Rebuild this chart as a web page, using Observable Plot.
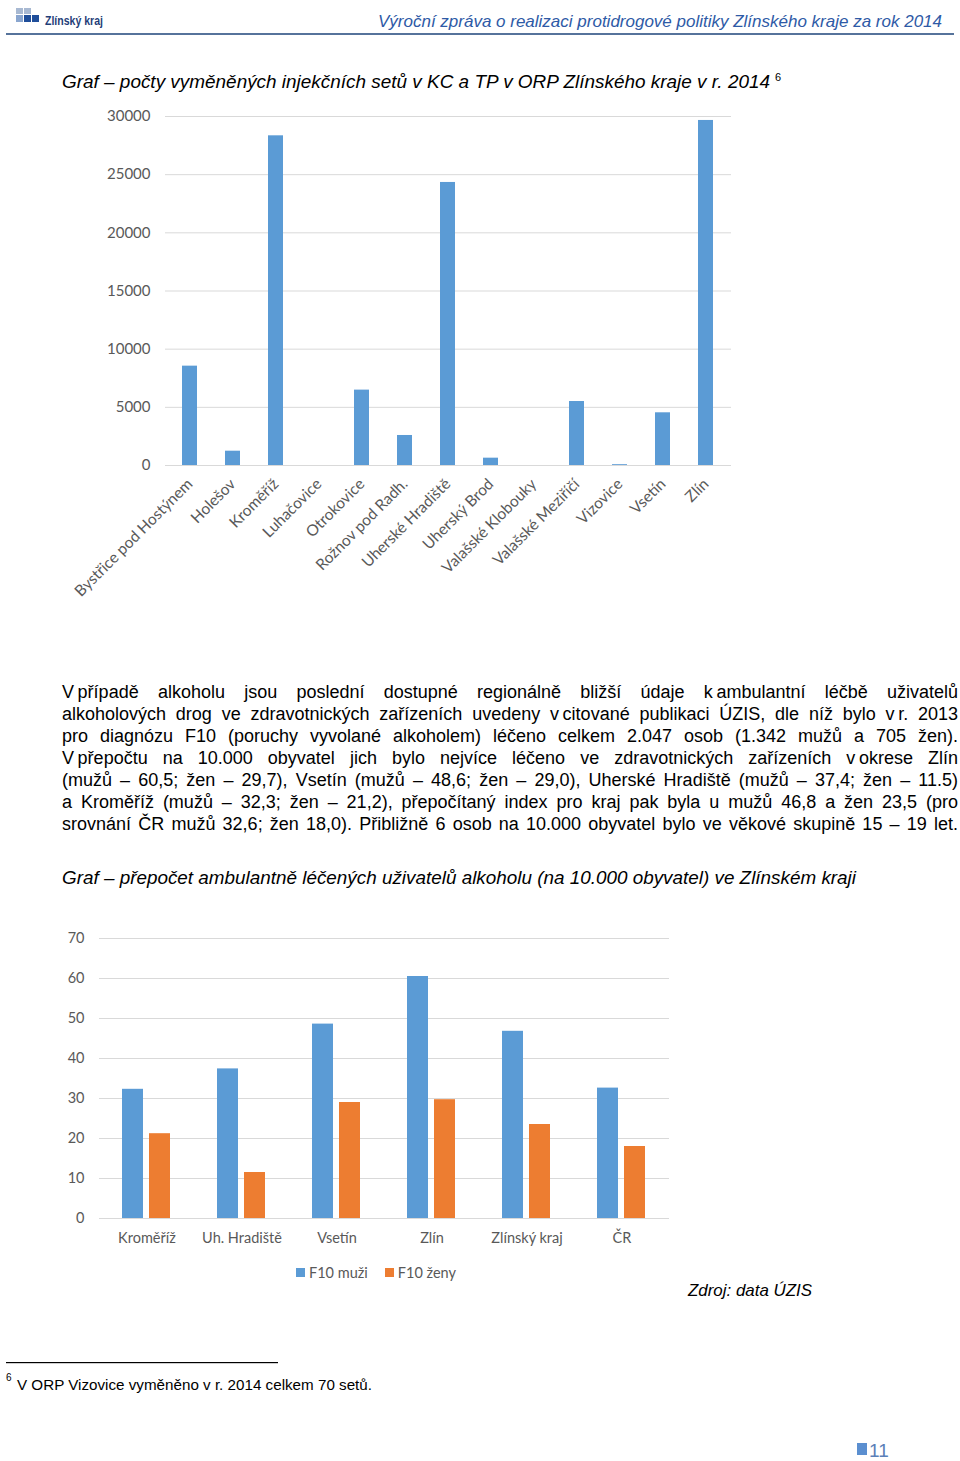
<!DOCTYPE html>
<html>
<head>
<meta charset="utf-8">
<script src="https://cdn.jsdelivr.net/npm/d3@7"></script>
<script src="https://cdn.jsdelivr.net/npm/@observablehq/plot@0.6"></script>
<style>
  html, body { margin: 0; padding: 0; background: #fff; }
  #page { position: relative; width: 960px; height: 1461px; overflow: hidden; font-family: "Liberation Sans", Arial, sans-serif; }
  .abs { position: absolute; }
  .para { position: absolute; left: 62px; width: 896px; font-size: 18px; line-height: 22px; color: #000;
          text-align: justify; text-align-last: justify; white-space: normal; }
  .sq { position: absolute; }
  #chart1 g[aria-label^="x-axis"] text { font-size: 15.5px; }
  #legend2 { position: absolute; top: 1264px; left: 296px; font-family: Lato, sans-serif; font-size: 14.5px; color: #595959; display: flex; align-items: center; }
  #legend2 .sw { width: 9px; height: 9px; display: inline-block; margin-right: 4px; }
  #legend2 .it { display: flex; align-items: center; margin-right: 17px; }
</style>
</head>
<body>
<div id="page">
  <!-- header logo -->
  <div class="sq" style="left:16px;top:8px;width:7px;height:6px;background:#a8b9d2"></div>
  <div class="sq" style="left:24px;top:8px;width:7px;height:6px;background:#a8b9d2"></div>
  <div class="sq" style="left:16px;top:15px;width:7px;height:7px;background:#8aa6cf"></div>
  <div class="sq" style="left:24px;top:15px;width:7px;height:7px;background:#1f4e9a"></div>
  <div class="sq" style="left:32px;top:15px;width:7px;height:7px;background:#1f4e9a"></div>
  <svg class="abs" style="left:0;top:0" width="960" height="40">
    <text x="45" y="25" font-family="Liberation Sans Narrow, Liberation Sans, sans-serif" font-weight="bold" font-size="12" fill="#1f3e79" textLength="58" lengthAdjust="spacingAndGlyphs">Zlínský kraj</text>
    <text x="378" y="27" font-family="Liberation Sans, Arial, sans-serif" font-style="italic" font-size="17" fill="#2e5aa6" textLength="564" lengthAdjust="spacingAndGlyphs">Výroční zpráva o realizaci protidrogové politiky Zlínského kraje za rok 2014</text>
    <rect x="6" y="33" width="948" height="2" fill="#56739b"></rect>
  </svg>
  <!-- chart 1 title -->
  <svg class="abs" style="left:0;top:60px" width="960" height="40">
    <text x="62" y="28" font-family="Liberation Sans, Arial, sans-serif" font-style="italic" font-size="18" fill="#000" textLength="708" lengthAdjust="spacingAndGlyphs">Graf – počty vyměněných injekčních setů v KC a TP v ORP Zlínského kraje v r. 2014</text>
    <text x="775" y="21" font-family="Liberation Sans, Arial, sans-serif" font-size="11" fill="#000">6</text>
  </svg>
  <div id="chart1" class="abs" style="left:60px;top:100px"></div>

  <div class="para" style="top:681px">V&#8239;případě alkoholu jsou poslední dostupné regionálně bližší údaje k&#8239;ambulantní léčbě uživatelů</div>
  <div class="para" style="top:703px">alkoholových drog ve zdravotnických zařízeních uvedeny v&#8239;citované publikaci ÚZIS, dle níž bylo v&#8239;r. 2013</div>
  <div class="para" style="top:725px">pro diagnózu F10 (poruchy vyvolané alkoholem) léčeno celkem 2.047 osob (1.342 mužů a 705 žen).</div>
  <div class="para" style="top:747px">V&#8239;přepočtu na 10.000 obyvatel jich bylo nejvíce léčeno ve zdravotnických zařízeních v&#8239;okrese Zlín</div>
  <div class="para" style="top:769px">(mužů – 60,5; žen – 29,7), Vsetín (mužů – 48,6; žen – 29,0), Uherské Hradiště (mužů – 37,4; žen – 11.5)</div>
  <div class="para" style="top:791px">a Kroměříž (mužů – 32,3; žen – 21,2), přepočítaný index pro kraj pak byla u mužů 46,8 a žen 23,5 (pro</div>
  <div class="para" style="top:813px">srovnání ČR mužů 32,6; žen 18,0). Přibližně 6 osob na 10.000 obyvatel bylo ve věkové skupině 15 – 19 let.</div>

  <svg class="abs" style="left:0;top:860px" width="960" height="40">
    <text x="62" y="24" font-family="Liberation Sans, Arial, sans-serif" font-style="italic" font-size="18" fill="#000" textLength="794" lengthAdjust="spacingAndGlyphs">Graf – přepočet ambulantně léčených uživatelů alkoholu (na 10.000 obyvatel) ve Zlínském kraji</text>
  </svg>
  <div id="chart2" class="abs" style="left:50px;top:920px"></div>
  <div id="legend2"></div>

  <svg class="abs" style="left:0;top:1270px" width="960" height="40">
    <text x="688" y="26" font-family="Liberation Sans, Arial, sans-serif" font-style="italic" font-size="17" fill="#000" textLength="124" lengthAdjust="spacingAndGlyphs">Zdroj: data ÚZIS</text>
  </svg>

  <svg class="abs" style="left:0;top:1350px" width="960" height="111">
    <rect x="6" y="12" width="272" height="1.2" fill="#000"></rect>
    <text x="6" y="31" font-family="Liberation Sans, Arial, sans-serif" font-size="10" fill="#000">6</text>
    <text x="17" y="40" font-family="Liberation Sans, Arial, sans-serif" font-size="15" fill="#000" textLength="355" lengthAdjust="spacingAndGlyphs">V ORP Vizovice vyměněno v r. 2014 celkem 70 setů.</text>
    <rect x="857" y="93" width="10" height="12" fill="#5b8fd0"></rect>
    <text x="869" y="107" font-family="Liberation Sans Narrow, Liberation Sans, sans-serif" font-size="19" fill="#5b7fb8">11</text>
  </svg>
</div>
<script>
// ---- Chart 1 data ----
const orp = ["Bystřice pod Hostýnem","Holešov","Kroměříž","Luhačovice","Otrokovice","Rožnov pod Radh.","Uherské Hradiště","Uherský Brod","Valašské Klobouky","Valašské Meziříčí","Vizovice","Vsetín","Zlín"];
const sety = [8540, 1230, 28340, 0, 6480, 2580, 24330, 630, 0, 5500, 70, 4530, 29660];
const ticks1 = [0, 5000, 10000, 15000, 20000, 25000, 30000];

// ---- Chart 2 data ----
const okresy = ["Kroměříž","Uh. Hradiště","Vsetín","Zlín","Zlínský kraj","ČR"];
const serie = ["F10 muži","F10 ženy"];
const muzi = [32.3, 37.4, 48.6, 60.5, 46.8, 32.6];
const zeny = [21.2, 11.5, 29.0, 29.7, 23.5, 18.0];
const ticks2 = [0, 10, 20, 30, 40, 50, 60, 70];
const barvy = ["#5B9BD5", "#ED7D31"];

const data1 = orp.map((o, i) => ({orp: o, v: sety[i]}));
const c1 = Plot.plot({
  width: 700, height: 510,
  marginLeft: 105, marginRight: 29, marginTop: 16, marginBottom: 145,
  style: {fontFamily: "Lato, sans-serif", fontSize: "15px", color: "#595959", background: "transparent"},
  x: {domain: orp, paddingInner: 0.65, paddingOuter: 0.325, label: null, tickSize: 0, tickRotate: -45, tickPadding: 16},
  y: {domain: [0, 30000], ticks: ticks1, label: null, tickSize: 0, tickPadding: 15, tickFormat: d => String(d)},
  marks: [
    Plot.ruleY(ticks1, {stroke: "#d9d9d9", strokeWidth: 1}),
    Plot.barY(data1, {x: "orp", y: "v", fill: "#5B9BD5"})
  ]
});
document.getElementById("chart1").appendChild(c1);

const data2 = okresy.flatMap((o, i) => [
  {okres: o, serie: serie[0], v: muzi[i]},
  {okres: o, serie: serie[1], v: zeny[i]}
]);
const c2 = Plot.plot({
  width: 640, height: 330,
  marginLeft: 47, marginRight: 20, marginTop: 18, marginBottom: 32,
  style: {fontFamily: "Lato, sans-serif", fontSize: "14.5px", color: "#595959", background: "transparent"},
  fx: {domain: okresy, padding: 0, label: null, tickSize: 0, tickPadding: 14},
  x: {domain: serie, paddingInner: 0.214, paddingOuter: 0.81, axis: null},
  y: {domain: [0, 70], ticks: ticks2, label: null, tickSize: 0, tickPadding: 15},
  color: {domain: serie, range: barvy},
  marks: [
    Plot.ruleY(ticks2, {stroke: "#d9d9d9", strokeWidth: 1}),
    Plot.barY(data2, {fx: "okres", x: "serie", y: "v", fill: "serie"})
  ]
});
document.getElementById("chart2").appendChild(c2);

const lg = document.getElementById("legend2");
serie.forEach((s, i) => {
  const it = document.createElement("span");
  it.className = "it";
  const sw = document.createElement("span");
  sw.className = "sw";
  sw.style.background = barvy[i];
  it.appendChild(sw);
  it.appendChild(document.createTextNode(s));
  lg.appendChild(it);
});
</script>
</body>
</html>
